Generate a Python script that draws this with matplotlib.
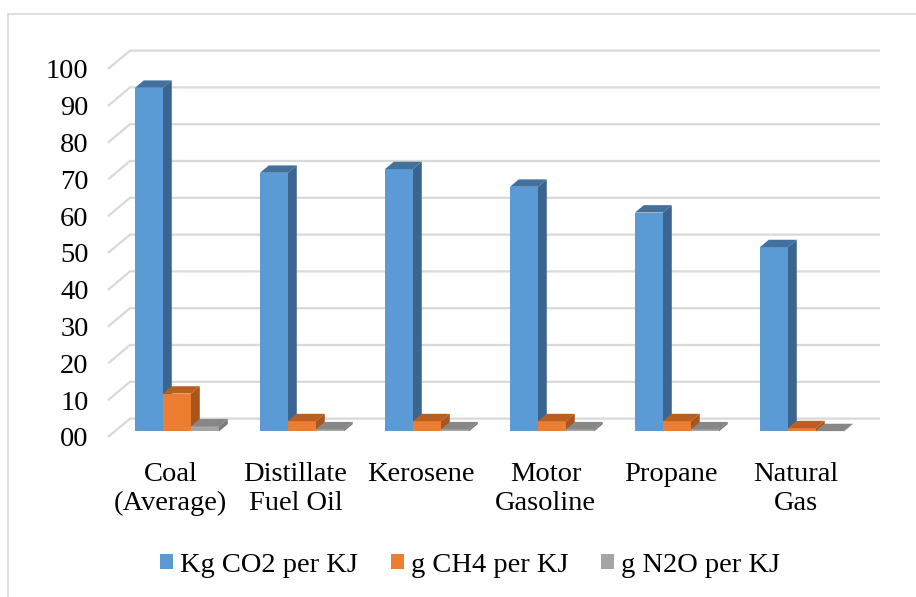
import numpy as np
import matplotlib.pyplot as plt
from matplotlib.patches import Polygon, Patch
from matplotlib.lines import Line2D

# data
categories = ['Coal\n(Average)', 'Distillate\nFuel Oil', 'Kerosene', 'Motor\nGasoline', 'Propane', 'Natural\nGas']
co2 = [93.4, 70.3, 71.3, 66.5, 59.5, 50.1]
ch4 = [10.3, 2.8, 2.8, 2.8, 2.8, 0.9]
n2o = [1.4, 0.6, 0.6, 0.6, 0.6, 0.1]
series_names = ['Kg CO2 per KJ', 'g CH4 per KJ', 'g N2O per KJ']
yticks = list(range(0, 101, 10))
ytick_labels = ['00'] + [str(v) for v in yticks[1:]]

# face colours (front, top, side)
colors = [('#5b9bd5', '#41719c', '#3b6590'),
          ('#ed7d31', '#b85f22', '#a8561e'),
          ('#a5a5a5', '#878787', '#7b7b7b')]

plt.rcParams['font.family'] = ['Liberation Serif', 'DejaVu Serif']
fs = 20.5

W, H = 916, 597
fig = plt.figure(figsize=(W / 100, H / 100), dpi=100)
ax = fig.add_axes([108 / W, 160 / H, 750 / W, 368 / H])
ax.set_xlim(0, 6)
ax.set_ylim(0, 100)

# depth of the back wall, in data units
back_dx, back_dy = 0.176, 5.0
# bars: front face at 0.3 of the depth, 0.4 deep
front_d, bar_d = 0.3, 0.4
bar_w = 0.224
group_left = 0.163

grid_c = '#d9d9d9'
for v in yticks:
    ax.plot([0, back_dx, 6 + back_dx], [v, v + back_dy, v + back_dy],
            color=grid_c, lw=1.6, zorder=1, clip_on=False, solid_capstyle='butt')

fx, fy = front_d * back_dx, front_d * back_dy
bx, by = bar_d * back_dx, bar_d * back_dy
z = 2
for i in range(len(categories)):
    for k, vals in enumerate([co2, ch4, n2o]):
        h = vals[i]
        x0 = i + group_left + k * bar_w + fx
        cf, ct, cs = colors[k]
        ax.bar(x0, h, bar_w, bottom=fy, align='edge', color=cf, lw=0, zorder=z, clip_on=False)
        top = [(x0, fy + h), (x0 + bar_w, fy + h), (x0 + bar_w + bx, fy + h + by), (x0 + bx, fy + h + by)]
        side = [(x0 + bar_w, fy), (x0 + bar_w + bx, fy + by), (x0 + bar_w + bx, fy + h + by), (x0 + bar_w, fy + h)]
        ax.add_patch(Polygon(top, closed=True, fc=ct, lw=0, zorder=z + 0.1, clip_on=False))
        ax.add_patch(Polygon(side, closed=True, fc=cs, lw=0, zorder=z + 0.2, clip_on=False))
        z += 1

ax.set_yticks(yticks)
ax.set_yticklabels(ytick_labels, fontsize=fs)
ax.set_xticks(np.arange(len(categories)) + 0.5)
ax.set_xticklabels(categories, fontsize=fs, linespacing=1.22)
ax.tick_params(axis='y', length=0, pad=14)
ax.tick_params(axis='x', length=0, pad=18)
for s in ax.spines.values():
    s.set_visible(False)
ax.patch.set_alpha(0)

handles = [Patch(fc=c[0], ec='none') for c in colors]
fig.legend(handles, series_names, loc='center', bbox_to_anchor=(470 / W, 1 - 565 / H),
           ncol=3, frameon=False, fontsize=fs, handlelength=0.45, handleheight=0.45,
           handletextpad=0.25, columnspacing=1.15)

# chart frame (left and top edges visible)
fig.add_artist(Line2D([8 / W, 8 / W], [0, 1 - 14 / H], color=grid_c, lw=1.2))
fig.add_artist(Line2D([8 / W, 1], [1 - 14 / H, 1 - 14 / H], color=grid_c, lw=1.2))

fig.savefig('out.png', dpi=100)
